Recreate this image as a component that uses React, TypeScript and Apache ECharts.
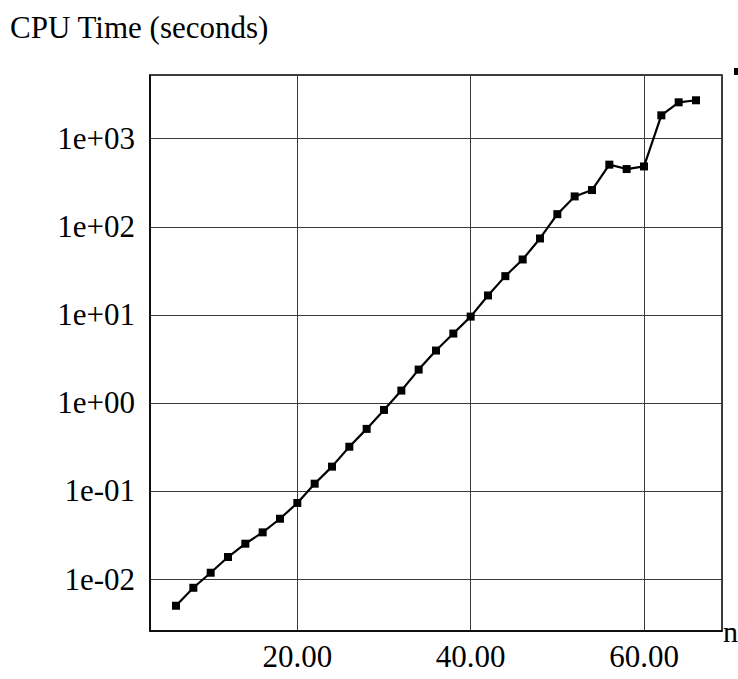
import React, { useEffect, useRef } from "react";
import * as echarts from "echarts";

// Problem size n
const sizes = [6, 8, 10, 12, 14, 16, 18, 20, 22, 24, 26, 28, 30, 32, 34, 36, 38, 40, 42, 44, 46, 48, 50, 52, 54, 56, 58, 60, 62, 64, 66];

// CPU time in seconds for each n
const cpuSeconds = [
  0.00498, 0.00796, 0.0118, 0.0178, 0.0252, 0.0339, 0.0484, 0.0731, 0.121, 0.189,
  0.318, 0.507, 0.832, 1.38, 2.39, 3.93, 6.13, 9.55, 16.6, 27.5,
  42.5, 73.6, 139, 221, 261, 507, 452, 484, 1841, 2588, 2729,
];

const FONT = "'Liberation Serif', 'Times New Roman', serif";
const FONT_SIZE = 31;

// 5% padding on each side of the data extent (log space for the y axis)
const xMinData = Math.min(...sizes);
const xMaxData = Math.max(...sizes);
const xPad = (xMaxData - xMinData) * 0.05;
const logMin = Math.log10(Math.min(...cpuSeconds));
const logMax = Math.log10(Math.max(...cpuSeconds));
const logPad = (logMax - logMin) * 0.05;

function expLabel(v: number): string {
  const e = Math.round(Math.log10(v));
  const sign = e < 0 ? "-" : "+";
  const abs = Math.abs(e);
  return "1e" + sign + (abs < 10 ? "0" + abs : String(abs));
}

export default function App() {
  const ref = useRef<HTMLDivElement>(null);

  useEffect(() => {
    if (!ref.current) return;
    const chart = echarts.init(ref.current, undefined, { renderer: "svg" });
    chart.setOption({
      animation: false,
      backgroundColor: "#fff",
      textStyle: { fontFamily: FONT },
      title: {
        text: "CPU Time (seconds)",
        left: 5,
        top: 7,
        textStyle: { fontFamily: FONT, fontSize: FONT_SIZE, fontWeight: "normal", color: "#000" },
      },
      grid: {
        left: 150,
        top: 75,
        right: 16,
        bottom: 48,
        show: true,
        borderColor: "#000",
        borderWidth: 1.5,
        containLabel: false,
        outerBoundsMode: "none",
      },
      graphic: [
        {
          type: "rect",
          shape: { x: 734, y: 68, width: 7, height: 7 },
          style: { fill: "#000" },
        },
      ],
      xAxis: {
        type: "value",
        min: xMinData - xPad,
        max: xMaxData + xPad,
        splitNumber: 3,
        name: "n",
        nameLocation: "end",
        nameGap: 1,
        nameTextStyle: { fontFamily: FONT, fontSize: 30, color: "#000" },
        axisLine: { show: true, lineStyle: { color: "#000", width: 1.5 } },
        axisTick: { show: false },
        axisLabel: {
          showMinLabel: false,
          showMaxLabel: false,
          margin: 10,
          fontFamily: FONT,
          fontSize: FONT_SIZE,
          color: "#000",
          formatter: (v: number) => v.toFixed(2),
        },
        splitLine: { show: true, lineStyle: { color: "#3a3a3a", width: 1 } },
      },
      yAxis: {
        type: "log",
        logBase: 10,
        min: Math.pow(10, logMin - logPad),
        max: Math.pow(10, logMax + logPad),
        axisLine: { show: true, lineStyle: { color: "#000", width: 1.5 } },
        axisTick: { show: false },
        axisLabel: {
          showMinLabel: false,
          showMaxLabel: false,
          margin: 15,
          fontFamily: FONT,
          fontSize: FONT_SIZE,
          color: "#000",
          formatter: (v: number) => expLabel(v),
        },
        splitLine: { show: true, lineStyle: { color: "#3a3a3a", width: 1 } },
      },
      series: [
        {
          type: "line",
          data: sizes.map((n, i) => [n, cpuSeconds[i]]),
          symbol: "rect",
          symbolSize: 8,
          itemStyle: { color: "#000" },
          lineStyle: { color: "#000", width: 2.2 },
        },
      ],
    });
    return () => chart.dispose();
  }, []);

  return <div ref={ref} style={{ width: 738, height: 679, position: "absolute", left: 0, top: 0 }} />;
}
